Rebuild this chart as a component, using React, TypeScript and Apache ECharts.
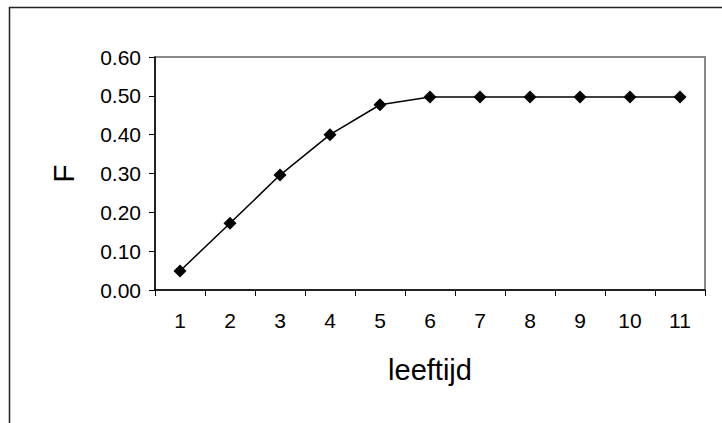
import React, { useEffect, useRef } from "react";
import * as echarts from "echarts";

const categories = ["1", "2", "3", "4", "5", "6", "7", "8", "9", "10", "11"];
const fValues = [0.049, 0.172, 0.296, 0.4, 0.477, 0.497, 0.497, 0.497, 0.497, 0.497, 0.497];
const xTitle = "leeftijd";
const yTitle = "F";

const FONT = "'Liberation Sans', Arial, sans-serif";

export default function App() {
  const ref = useRef<HTMLDivElement>(null);
  useEffect(() => {
    if (!ref.current) return;
    const chart = echarts.init(ref.current, null, { renderer: "svg" });
    chart.setOption({
      animation: false,
      backgroundColor: "#ffffff",
      textStyle: { fontFamily: FONT },
      grid: {
        left: 155,
        top: 57,
        width: 550,
        height: 233,
        show: true,
        borderColor: "#8a8a8a",
        borderWidth: 2,
        backgroundColor: "transparent",
      },
      graphic: [
        {
          type: "rect",
          silent: true,
          shape: { x: 9.5, y: 7.5, width: 900, height: 600 },
          style: { fill: "none", stroke: "#222222", lineWidth: 1.5 },
        },
      ],
      xAxis: {
        type: "category",
        data: categories,
        boundaryGap: true,
        name: xTitle,
        nameLocation: "middle",
        nameGap: 65,
        nameTextStyle: { fontSize: 29, color: "#000", fontFamily: FONT },
        axisLine: { show: true, lineStyle: { color: "#000", width: 1.5 } },
        axisTick: { show: true, length: 6, lineStyle: { color: "#000", width: 1 } },
        axisLabel: { fontSize: 21, color: "#000", margin: 20, fontFamily: FONT },
        splitLine: { show: false },
      },
      yAxis: {
        type: "value",
        min: 0,
        max: 0.6,
        interval: 0.1,
        name: yTitle,
        nameLocation: "middle",
        nameGap: 77,
        nameRotate: 90,
        nameTextStyle: { fontSize: 30, color: "#000", fontFamily: FONT },
        axisLine: { show: true, lineStyle: { color: "#000", width: 1.5 } },
        axisTick: { show: true, length: 6, lineStyle: { color: "#000", width: 1 } },
        axisLabel: {
          fontSize: 21,
          color: "#000",
          margin: 14,
          fontFamily: FONT,
          formatter: (v: number) => v.toFixed(2),
        },
        splitLine: { show: false },
      },
      series: [
        {
          type: "line",
          data: fValues,
          symbol: "diamond",
          symbolSize: 13,
          lineStyle: { color: "#000", width: 1.5 },
          itemStyle: { color: "#000" },
        },
      ],
    });
    return () => chart.dispose();
  }, []);
  return (
    <div
      ref={ref}
      style={{ position: "fixed", left: 0, top: 0, width: 722, height: 423 }}
    />
  );
}
